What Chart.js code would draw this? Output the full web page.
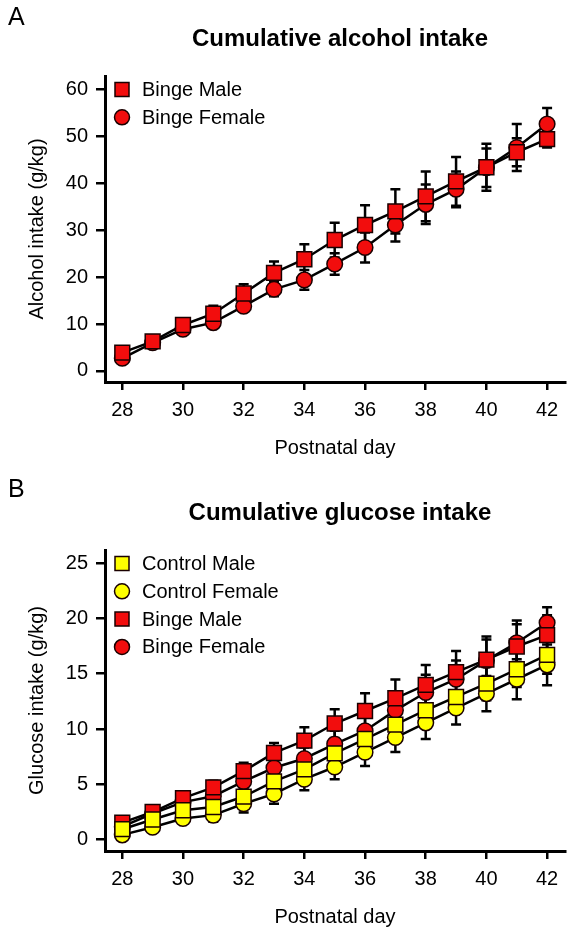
<!DOCTYPE html>
<html>
<head>
<meta charset="utf-8">
<script src="https://cdn.jsdelivr.net/npm/chart.js@4.4.0/dist/chart.umd.min.js"></script>
<style>
body{margin:0;background:#fff;width:578px;height:938px;position:relative;overflow:hidden}
.panel{position:absolute;left:0;width:578px}
#cajaA{top:0;height:469px}
#cajaB{top:455px;height:483px}
</style>
</head>
<body>
<div class="panel" id="cajaA"><canvas id="graficaA" width="578" height="469"></canvas></div>
<div class="panel" id="cajaB"><canvas id="graficaB" width="578" height="483"></canvas></div>
<script>
//datos
const dias=[28,29,30,31,32,33,34,35,36,37,38,39,40,41,42];
const diasTicks=[28,30,32,34,36,38,40,42];
const ticksAlcohol=[0,10,20,30,40,50,60];
const ticksGlucosa=[0,5,10,15,20,25];
//alcohol (g/kg)
const alcMacho=[3.9,6.3,9.8,12.2,16.5,20.9,23.8,27.9,31.1,34.0,37.2,40.4,43.4,46.6,49.4];
const alcMachoErr=[0.5,0.7,0.8,1.7,2.0,2.4,3.2,3.7,4.2,4.7,5.3,5.2,5.0,3.0,1.8];
const alcHembra=[2.7,6.0,8.9,10.3,13.8,17.4,19.4,22.8,26.3,31.1,35.5,38.7,43.3,47.6,52.6];
const alcHembraErr=[0.4,0.5,0.7,1.0,1.2,1.5,2.1,2.3,3.2,3.5,4.2,3.8,4.1,5.0,3.4];
//glucosa (g/kg)
const gluControlMacho=[0.95,1.83,2.66,2.96,3.9,5.27,6.36,7.8,9.1,10.4,11.7,12.9,14.1,15.4,16.7];
const gluControlMachoErr=[0.2,0.3,0.4,0.5,0.6,0.8,0.9,1.0,1.1,1.2,1.3,1.4,1.5,1.6,1.7];
const gluControlHembra=[0.44,1.12,1.92,2.22,3.25,4.14,5.47,6.57,7.9,9.23,10.56,11.9,13.2,14.5,15.8];
const gluControlHembraErr=[0.2,0.3,0.4,0.6,0.8,0.9,1.0,1.1,1.24,1.3,1.46,1.5,1.6,1.8,1.84];
const gluBingeMacho=[1.54,2.5,3.76,4.73,6.2,7.84,8.96,10.5,11.63,12.78,13.99,15.15,16.27,17.46,18.49];
const gluBingeMachoErr=[0.3,0.4,0.5,0.6,0.75,0.9,1.2,1.3,1.6,1.7,1.8,1.9,2.1,2.0,1.8];
const gluBingeHembra=[1.18,2.37,3.4,3.93,5.27,6.5,7.34,8.64,9.85,11.69,13.3,14.5,16.2,17.8,19.6];
const gluBingeHembraErr=[0.3,0.4,0.5,0.6,0.7,0.9,1.0,1.2,1.4,1.5,1.6,1.7,1.9,2.0,1.4];

const ROJO='#f20d0d';
const AMARILLO='#ffff00';
const fuente='"Liberation Sans", Arial, Helvetica, sans-serif';
Chart.defaults.font.family=fuente;
Chart.defaults.font.size=20;
Chart.defaults.color='#000';

function serie(nombre,valores,errores,color,forma)
{
    return {
        label:nombre,
        data:dias.map((d,i)=>({x:d,y:valores[i]})),
        errores:errores,
        borderColor:'#000',
        borderWidth:2.5,
        tension:0,
        fill:false,
        pointStyle:forma,
        pointRadius:forma==='rect'?10.5:7.8,
        pointBackgroundColor:color,
        pointBorderColor:'#1a0000',
        pointBorderWidth:1.5
    };
}

//barras de error
const barrasError={
    id:'barrasError',
    beforeDatasetsDraw(chart){
        const ctx=chart.ctx, sx=chart.scales.x, sy=chart.scales.y;
        ctx.save();
        ctx.strokeStyle='#000';
        ctx.lineWidth=2.5;
        chart.data.datasets.forEach((ds,i)=>{
            if(!chart.isDatasetVisible(i)) return;
            ds.data.forEach((p,j)=>{
                const e=ds.errores[j];
                const px=sx.getPixelForValue(p.x);
                const y1=sy.getPixelForValue(p.y+e);
                const y2=sy.getPixelForValue(p.y-e);
                ctx.beginPath();
                ctx.moveTo(px,y1); ctx.lineTo(px,y2);
                ctx.moveTo(px-5,y1); ctx.lineTo(px+5,y1);
                ctx.moveTo(px-5,y2); ctx.lineTo(px+5,y2);
                ctx.stroke();
            });
        });
        ctx.restore();
    }
};

//leyenda dentro del area
const leyenda={
    id:'leyenda',
    afterDatasetsDraw(chart){
        const ctx=chart.ctx, a=chart.chartArea;
        ctx.save();
        chart.data.datasets.forEach((ds,i)=>{
            const cy=a.top+13.5+i*27.8;
            const cx=a.left+17;
            ctx.fillStyle=ds.pointBackgroundColor;
            ctx.strokeStyle=ds.pointBorderColor;
            ctx.lineWidth=1.5;
            ctx.beginPath();
            if(ds.pointStyle==='rect') ctx.rect(cx-7,cy-7,14,14);
            else ctx.arc(cx,cy,7.5,0,Math.PI*2);
            ctx.fill();
            ctx.stroke();
            ctx.fillStyle='#000';
            ctx.font='20px '+fuente;
            ctx.textAlign='left';
            ctx.textBaseline='middle';
            ctx.fillText(ds.label,a.left+37,cy+1);
        });
        ctx.restore();
    }
};

//letra y titulo
const rotulos={
    id:'rotulos',
    afterDraw(chart,args,opts){
        const ctx=chart.ctx, a=chart.chartArea;
        ctx.save();
        ctx.fillStyle='#000';
        ctx.textBaseline='middle';
        ctx.textAlign='left';
        ctx.font='25px '+fuente;
        ctx.fillText(opts.letra,8,opts.letraY);
        ctx.textAlign='center';
        ctx.font='bold 24px '+fuente;
        ctx.fillText(opts.titulo,(a.left+a.right)/2+5,opts.tituloY);
        ctx.restore();
    }
};

function ejes(yMin,yMax,yTicks,yTitulo)
{
    const grid={drawOnChartArea:false,drawTicks:true,color:'#000',lineWidth:2.5};
    return {
        x:{
            type:'linear',min:27.43,max:42.59,
            afterBuildTicks:s=>{s.ticks=diasTicks.map(v=>({value:v}));},
            afterFit:s=>{s.height=87;},
            grid:Object.assign({tickLength:8},grid),
            border:{color:'#000',width:3},
            ticks:{padding:8,maxRotation:0,autoSkip:false},
            title:{display:true,text:'Postnatal day',padding:{top:0,bottom:9}}
        },
        y:{
            type:'linear',min:yMin,max:yMax,
            afterBuildTicks:s=>{s.ticks=yTicks.map(v=>({value:v}));},
            afterFit:s=>{s.width=105;},
            grid:Object.assign({tickLength:9},grid),
            border:{color:'#000',width:3},
            ticks:{padding:8},
            title:{display:true,text:yTitulo,padding:{top:25,bottom:0}}
        }
    };
}

new Chart(document.getElementById('graficaA'),{
    type:'line',
    data:{datasets:[
        serie('Binge Male',alcMacho,alcMachoErr,ROJO,'rect'),
        serie('Binge Female',alcHembra,alcHembraErr,ROJO,'circle')
    ]},
    options:{
        responsive:false,
        animation:false,
        layout:{padding:{top:76,right:13,left:0,bottom:0}},
        scales:ejes(-2.35,62.84,ticksAlcohol,'Alcohol intake (g/kg)'),
        plugins:{
            legend:{display:false},
            tooltip:{enabled:false},
            rotulos:{letra:'A',letraY:18.5,titulo:'Cumulative alcohol intake',tituloY:39}
        }
    },
    plugins:[barrasError,leyenda,rotulos]
});

new Chart(document.getElementById('graficaB'),{
    type:'line',
    data:{datasets:[
        serie('Control Male',gluControlMacho,gluControlMachoErr,AMARILLO,'rect'),
        serie('Control Female',gluControlHembra,gluControlHembraErr,AMARILLO,'circle'),
        serie('Binge Male',gluBingeMacho,gluBingeMachoErr,ROJO,'rect'),
        serie('Binge Female',gluBingeHembra,gluBingeHembraErr,ROJO,'circle')
    ]},
    options:{
        responsive:false,
        animation:false,
        layout:{padding:{top:95,right:13,left:0,bottom:0}},
        scales:ejes(-1.02,26.18,ticksGlucosa,'Glucose intake (g/kg)'),
        plugins:{
            legend:{display:false},
            tooltip:{enabled:false},
            rotulos:{letra:'B',letraY:35,titulo:'Cumulative glucose intake',tituloY:58.5}
        }
    },
    plugins:[barrasError,leyenda,rotulos]
});
</script>
</body>
</html>
